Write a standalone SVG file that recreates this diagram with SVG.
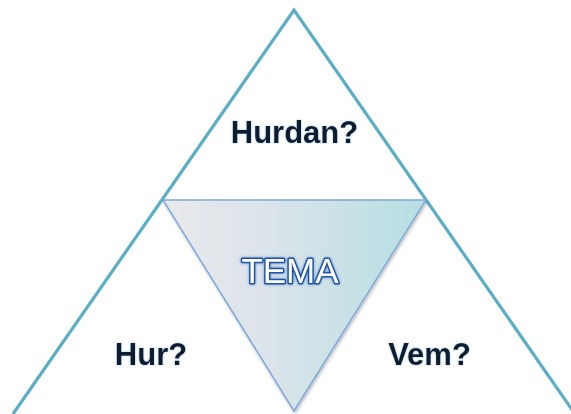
<svg xmlns="http://www.w3.org/2000/svg" width="571" height="414" viewBox="0 0 571 414">
  <defs>
    <linearGradient id="g" x1="0" y1="0" x2="1" y2="0">
      <stop offset="0" stop-color="#e9e9ec"/>
      <stop offset="0.4" stop-color="#dbe4ea"/>
      <stop offset="1" stop-color="#b6dfe3"/>
    </linearGradient>
    <filter id="glow" x="-20%" y="-30%" width="140%" height="160%">
      <feGaussianBlur in="SourceAlpha" stdDeviation="1.8" result="b"/>
      <feFlood flood-color="#4a7cc0" flood-opacity="0.8"/>
      <feComposite in2="b" operator="in" result="s"/>
      <feMerge><feMergeNode in="s"/><feMergeNode in="SourceGraphic"/></feMerge>
    </filter>
    <filter id="tglow" x="-10%" y="-30%" width="120%" height="160%">
      <feGaussianBlur in="SourceAlpha" stdDeviation="0.8" result="b"/>
      <feFlood flood-color="#6aa0d0" flood-opacity="0.6"/>
      <feComposite in2="b" operator="in" result="s"/>
      <feMerge><feMergeNode in="s"/><feMergeNode in="SourceGraphic"/></feMerge>
    </filter>
    <filter id="sh" x="-10%" y="-10%" width="120%" height="120%">
      <feGaussianBlur in="SourceAlpha" stdDeviation="1.5" result="b"/>
      <feOffset dx="1" dy="1.5" result="o"/>
      <feFlood flood-color="#000" flood-opacity="0.25"/>
      <feComposite in2="o" operator="in" result="s"/>
      <feMerge><feMergeNode in="s"/><feMergeNode in="SourceGraphic"/></feMerge>
    </filter>
  </defs>
  <style>
    .lbl { font-family: "Liberation Sans", Arial, sans-serif; font-weight: bold; font-size: 31px; fill: #0b1a2e; text-anchor: middle; }
    .tema { font-family: "Liberation Sans", Arial, sans-serif; font-size: 35px; fill: #ffffff; stroke: #1f55a5; stroke-width: 3; stroke-linejoin: round; paint-order: stroke; text-anchor: middle; }
  </style>
  <rect width="571" height="414" fill="#ffffff"/>
  <g id="outer">
    <polyline points="13,414 294,10 575,414" fill="none" stroke="#5aaec5" stroke-width="3.2" stroke-linejoin="miter"/>
  </g>
  <g id="tema-node">
    <polygon points="163,200 426,200 294,411" fill="url(#g)" stroke="#7fa8d8" stroke-width="1.5" filter="url(#sh)"/>
    <text class="tema" x="290" y="283" filter="url(#glow)">TEMA</text>
  </g>
  <g id="hurdan">
    <text class="lbl" x="294.5" y="143" filter="url(#tglow)">Hurdan?</text>
  </g>
  <g id="hur">
    <text class="lbl" x="151" y="365" filter="url(#tglow)">Hur?</text>
  </g>
  <g id="vem">
    <text class="lbl" x="429.5" y="365" filter="url(#tglow)">Vem?</text>
  </g>
  <g id="connectors"></g>
</svg>
